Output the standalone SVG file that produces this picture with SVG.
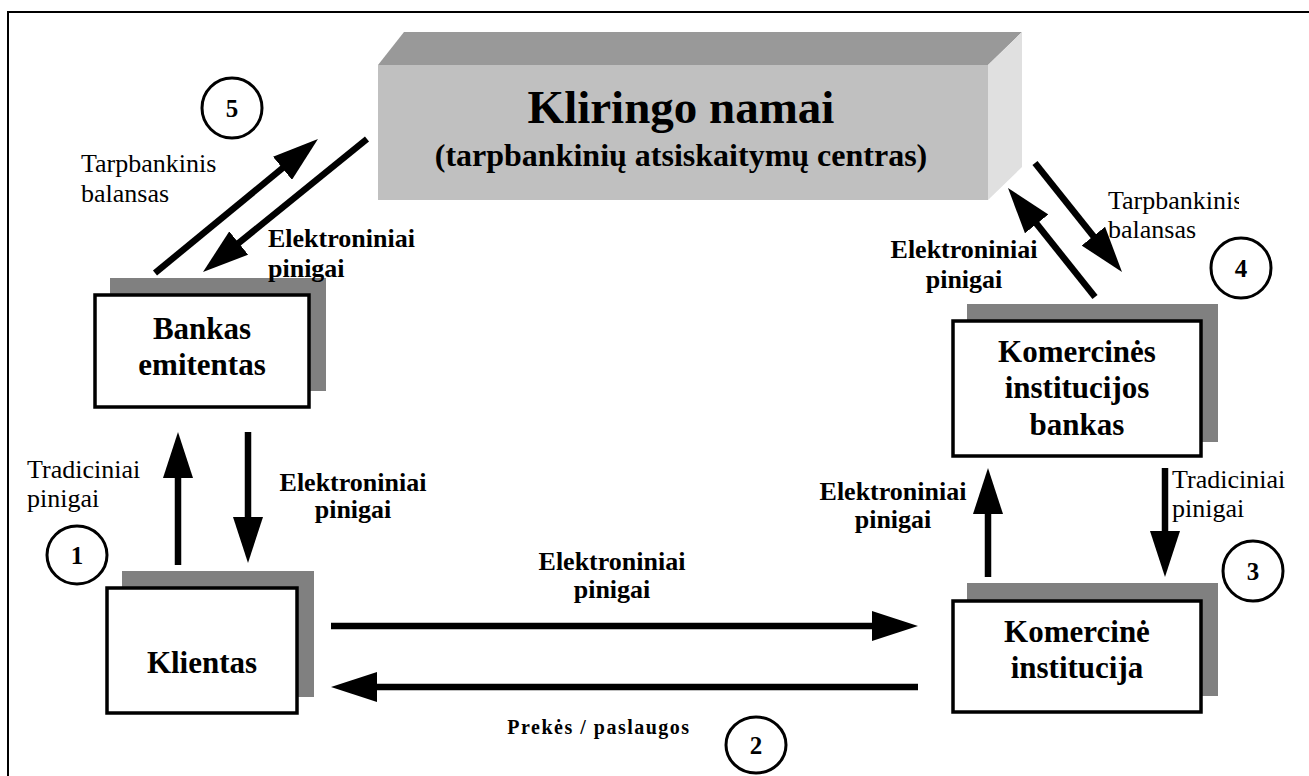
<svg xmlns="http://www.w3.org/2000/svg" width="1309" height="776" viewBox="0 0 1309 776">
  <style>
    text { font-family: "Liberation Serif", "Times New Roman", serif; fill: #000; }
    .b { font-weight: bold; }
    .lbl { font-size: 26px; }
    .node { font-size: 31px; font-weight: bold; text-anchor: middle; }
    .num { font-size: 25px; font-weight: bold; text-anchor: middle; }
    .box { fill: #fff; stroke: #000; stroke-width: 3.5; }
    .shadow { fill: #808080; }
    .ring { fill: #fff; stroke: #000; stroke-width: 3; }
    .flow { stroke: #000; stroke-width: 6.5; fill: none; marker-end: url(#head); }
  </style>
  <defs>
    <marker id="head" viewBox="0 0 46 30" refX="16" refY="15" markerWidth="46" markerHeight="30" markerUnits="userSpaceOnUse" orient="auto">
      <path d="M0,0 L46,15 L0,30 z" fill="#000"/>
    </marker>
    <clipPath id="clipRight">
      <rect x="1000" y="150" width="239" height="120"/>
    </clipPath>
  </defs>

  <rect width="1309" height="776" fill="#fff"/>
  <!-- outer frame -->
  <rect x="8" y="12" width="1330" height="800" fill="none" stroke="#000" stroke-width="2"/>

  <!-- clearing house block -->
  <g id="kliringo-namai">
    <polygon points="378,65 404,32 1022,32 988,65" fill="#999999"/>
    <polygon points="988,65 1022,32 1022,167 988,200" fill="#e0e0e0"/>
    <rect x="378" y="65" width="610" height="135" fill="#c0c0c0"/>
    <text x="681" y="123" class="b" font-size="47" text-anchor="middle">Kliringo namai</text>
    <text x="681" y="166" class="b" font-size="32" text-anchor="middle">(tarpbankinių atsiskaitymų centras)</text>
  </g>

  <g id="bankas-emitentas">
    <rect class="shadow" x="110" y="278" width="216" height="113"/>
    <rect class="box" x="95" y="295" width="214" height="112"/>
    <text class="node" x="202" y="339">Bankas</text>
    <text class="node" x="202" y="375">emitentas</text>
  </g>

  <g id="klientas">
    <rect class="shadow" x="122" y="571" width="192" height="126"/>
    <rect class="box" x="107" y="588" width="190" height="125"/>
    <text class="node" x="202" y="673">Klientas</text>
  </g>

  <g id="komercines-institucijos-bankas">
    <rect class="shadow" x="967" y="304" width="251" height="138"/>
    <rect class="box" x="953" y="321" width="248" height="135"/>
    <text class="node" x="1077" y="362">Komercinės</text>
    <text class="node" x="1077" y="398">institucijos</text>
    <text class="node" x="1077" y="435">bankas</text>
  </g>

  <g id="komercine-institucija">
    <rect class="shadow" x="967" y="583" width="251" height="113"/>
    <rect class="box" x="953" y="601" width="248" height="111"/>
    <text class="node" x="1077" y="642">Komercinė</text>
    <text class="node" x="1077" y="678">institucija</text>
  </g>

  <!-- step numbers -->
  <g id="step-1"><ellipse class="ring" cx="77" cy="555" rx="30" ry="29"/><text class="num" x="77" y="564">1</text></g>
  <g id="step-2"><ellipse class="ring" cx="756" cy="745" rx="30" ry="28"/><text class="num" x="756" y="754">2</text></g>
  <g id="step-3"><ellipse class="ring" cx="1253" cy="571" rx="30" ry="30"/><text class="num" x="1253" y="580">3</text></g>
  <g id="step-4"><ellipse class="ring" cx="1241" cy="268" rx="30" ry="30"/><text class="num" x="1241" y="277">4</text></g>
  <g id="step-5"><ellipse class="ring" cx="232" cy="108" rx="30" ry="30"/><text class="num" x="232" y="117">5</text></g>

  <!-- flows between participants -->
  <g id="connectors">
    <line class="flow" x1="155" y1="273" x2="294.8" y2="158.1"/>
    <line class="flow" x1="367" y1="139" x2="226.3" y2="253.1"/>
    <line class="flow" x1="1095" y1="297" x2="1026.7" y2="211.4"/>
    <line class="flow" x1="1035" y1="163" x2="1103.3" y2="248.6"/>
    <line class="flow" x1="178" y1="565" x2="178" y2="462"/>
    <line class="flow" x1="248" y1="432" x2="248" y2="533"/>
    <line class="flow" x1="988" y1="577" x2="988" y2="498"/>
    <line class="flow" x1="1165" y1="468" x2="1165" y2="547"/>
    <line class="flow" x1="331" y1="626" x2="888" y2="626"/>
    <line class="flow" x1="918" y1="687" x2="361" y2="687"/>
  </g>

  <!-- flow labels -->
  <g id="labels">
    <text class="lbl" x="81" y="172">Tarpbankinis</text>
    <text class="lbl" x="81" y="202">balansas</text>
    <text class="lbl b" x="268" y="247">Elektroniniai</text>
    <text class="lbl b" x="268" y="277">pinigai</text>

    <text class="lbl" x="27" y="478">Tradiciniai</text>
    <text class="lbl" x="27" y="507">pinigai</text>
    <text class="lbl b" x="353" y="491" text-anchor="middle">Elektroniniai</text>
    <text class="lbl b" x="353" y="518" text-anchor="middle">pinigai</text>

    <text class="lbl b" x="612" y="570" text-anchor="middle">Elektroniniai</text>
    <text class="lbl b" x="612" y="598" text-anchor="middle">pinigai</text>
    <text class="b" x="599" y="734" font-size="20" letter-spacing="1.5" text-anchor="middle">Prekės / paslaugos</text>

    <text class="lbl b" x="964" y="258" text-anchor="middle">Elektroniniai</text>
    <text class="lbl b" x="964" y="288" text-anchor="middle">pinigai</text>
    <g clip-path="url(#clipRight)">
      <text class="lbl" x="1108" y="209">Tarpbankinis</text>
    </g>
    <text class="lbl" x="1108" y="238">balansas</text>

    <text class="lbl b" x="893" y="500" text-anchor="middle">Elektroniniai</text>
    <text class="lbl b" x="893" y="528" text-anchor="middle">pinigai</text>
    <text class="lbl" x="1172" y="488">Tradiciniai</text>
    <text class="lbl" x="1172" y="517">pinigai</text>
  </g>
</svg>
